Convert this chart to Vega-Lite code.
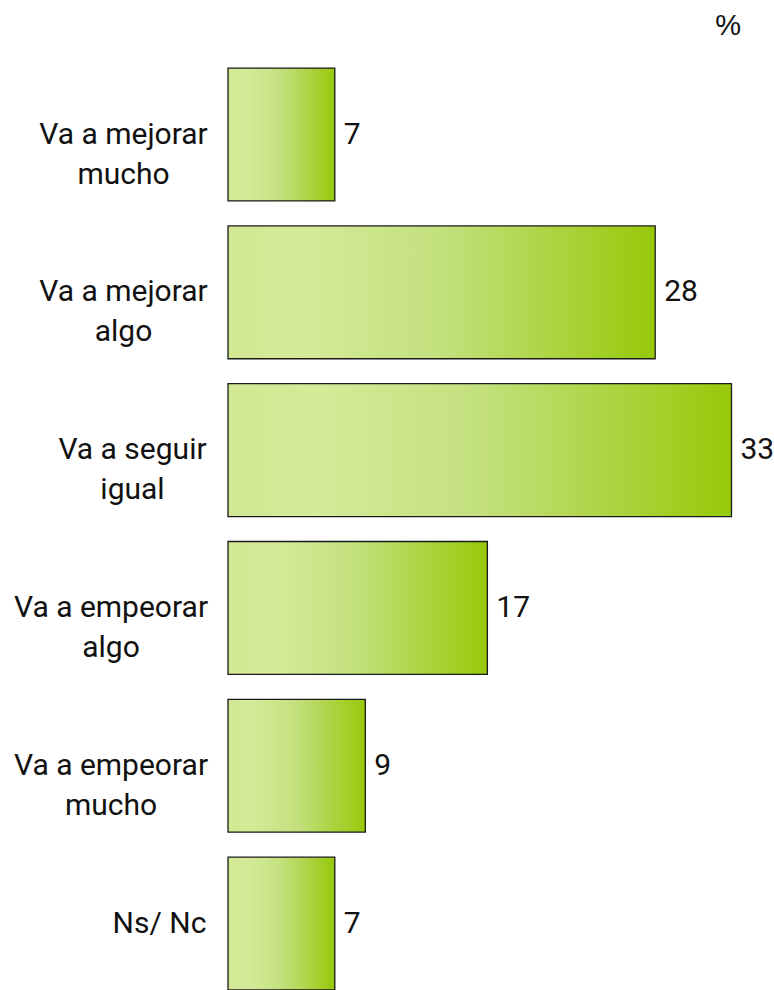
{
  "$schema": "https://vega.github.io/schema/vega-lite/v6.json",
  "width": 534,
  "height": 950,
  "autosize": {"type": "none"},
  "padding": {"left": 228, "top": 40, "right": 12, "bottom": 0},
  "background": "white",
  "config": {"view": {"stroke": null}},
  "title": {
    "text": "%",
    "anchor": "end",
    "frame": "group",
    "font": "Liberation Sans",
    "fontSize": 29,
    "fontWeight": "normal",
    "color": "#111",
    "dx": -21,
    "offset": -1
  },
  "data": {
    "values": [
      {"cat": "Va a mejorar|mucho", "v": 7},
      {"cat": "Va a mejorar|algo", "v": 28},
      {"cat": "Va a seguir|igual", "v": 33},
      {"cat": "Va a empeorar|algo", "v": 17},
      {"cat": "Va a empeorar|mucho", "v": 9},
      {"cat": "Ns/ Nc", "v": 7}
    ]
  },
  "encoding": {
    "y": {
      "field": "cat",
      "type": "nominal",
      "sort": null,
      "scale": {"paddingInner": 0.158, "paddingOuter": 0.089, "align": 1},
      "axis": {
        "title": null,
        "domain": false,
        "ticks": false,
        "tickSize": 0,
        "labelExpr": "split(datum.label, '|')",
        "labelFont": "Roboto",
        "labelFontSize": 30,
        "labelColor": "#111",
        "labelLineHeight": 40,
        "labelAlign": "center",
        "labelBaseline": "middle",
        "labelLimit": 300,
        "labelPadding": {"expr": "indexof(datum.value, 'seguir') >= 0 ? 96 : indexof(datum.value, 'empeorar') >= 0 ? 117.5 : indexof(datum.value, 'mejorar') >= 0 ? 105 : 69"}
      }
    },
    "x": {
      "field": "v",
      "type": "quantitative",
      "scale": {"domain": [0, 35], "nice": false},
      "axis": null
    }
  },
  "layer": [
    {
      "mark": {
        "type": "bar",
        "stroke": "#1a1a1a",
        "strokeWidth": 1.3,
        "color": {
          "gradient": "linear",
          "x1": 0, "x2": 1, "y1": 0, "y2": 0,
          "stops": [
            {"offset": 0, "color": "#d2e893"},
            {"offset": 0.18, "color": "#d4eb98"},
            {"offset": 0.5, "color": "#c3e07e"},
            {"offset": 1, "color": "#97c90a"}
          ]
        }
      }
    },
    {
      "mark": {
        "type": "text",
        "align": "left",
        "baseline": "middle",
        "dx": 9,
        "font": "Roboto",
        "fontSize": 30,
        "color": "#111"
      },
      "encoding": {"text": {"field": "v", "type": "quantitative"}}
    }
  ]
}
